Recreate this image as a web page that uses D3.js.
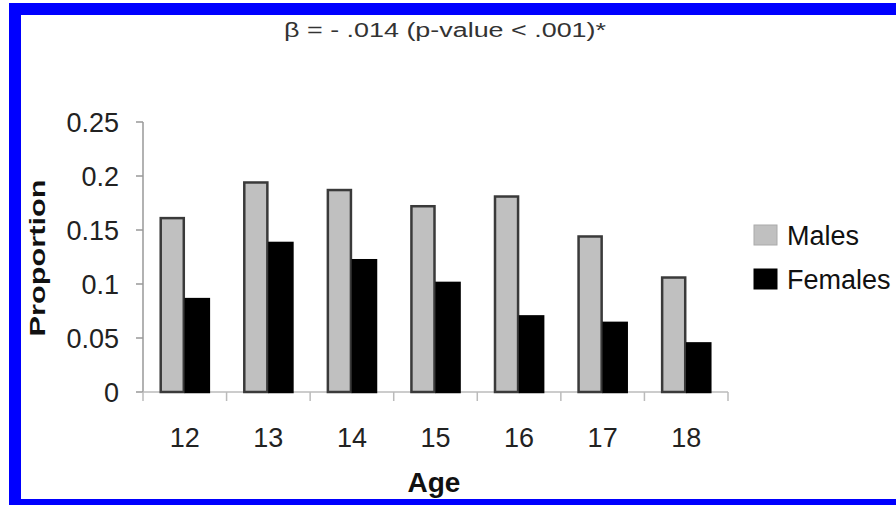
<!DOCTYPE html>
<html>
<head>
<meta charset="utf-8">
<script src="https://cdn.jsdelivr.net/npm/d3@7"></script>
<style>
  body { margin: 0; background: #fff; }
  svg { display: block; font-family: "Liberation Sans", Arial, sans-serif; }
</style>
</head>
<body>
<svg id="svg1" width="896" height="505"></svg>
<script>
// data
var ages = ["12", "13", "14", "15", "16", "17", "18"];
var males = [0.161, 0.194, 0.187, 0.172, 0.181, 0.144, 0.106];
var females = [0.086, 0.138, 0.122, 0.101, 0.070, 0.064, 0.045];
var yTicks = [0, 0.05, 0.1, 0.15, 0.2, 0.25];
var seriesNames = ["Males", "Females"];

var svg = d3.select('#svg1');

// blue frame round the picture
svg.append('rect')
    .attr('x', 15).attr('y', 9)
    .attr('width', 1000).attr('height', 496)
    .attr('fill', 'none')
    .attr('stroke', '#0000ff')
    .attr('stroke-width', 12);

var x = d3.scaleBand().domain(ages).range([143, 728])
    .paddingInner(0.4).paddingOuter(0.2);
var xInner = d3.scaleBand().domain(seriesNames).range([0, x.bandwidth()]);
var y = d3.scaleLinear().domain([0, 0.25]).range([392, 122]);

var colors = { Males: '#c0c0c0', Females: '#000000' };
var strokes = { Males: '#3a3a3a', Females: '#000000' };

// title
svg.append('text')
    .attr('x', 445).attr('y', 37)
    .attr('text-anchor', 'middle')
    .attr('font-size', 20)
    .attr('fill', '#333')
    .attr('textLength', 322)
    .attr('lengthAdjust', 'spacingAndGlyphs')
    .text('β = - .014 (p-value < .001)*');

// y axis
var yAxis = svg.append('g');
yAxis.append('line')
    .attr('x1', 143).attr('x2', 143)
    .attr('y1', y(0.25)).attr('y2', y(0))
    .attr('stroke', '#999').attr('stroke-width', 1.5);
yAxis.selectAll('.tick').data(yTicks).enter().append('line')
    .attr('x1', 136).attr('x2', 143)
    .attr('y1', function(d) { return y(d); })
    .attr('y2', function(d) { return y(d); })
    .attr('stroke', '#999').attr('stroke-width', 1.5);
yAxis.selectAll('.lab').data(yTicks).enter().append('text')
    .attr('x', 119)
    .attr('y', function(d) { return y(d) + 10; })
    .attr('text-anchor', 'end')
    .attr('font-size', 27)
    .attr('fill', '#222')
    .text(function(d) { return d; });

// x axis
var bounds = ages.map(function(d) { return x(d) - x.step() * 0.2; });
bounds.push(728);
svg.append('line')
    .attr('x1', 143).attr('x2', 728)
    .attr('y1', 392).attr('y2', 392)
    .attr('stroke', '#bbb').attr('stroke-width', 1.5);
svg.selectAll('.xtick').data(bounds).enter().append('line')
    .attr('x1', function(d) { return d; })
    .attr('x2', function(d) { return d; })
    .attr('y1', 392).attr('y2', 401)
    .attr('stroke', '#bbb').attr('stroke-width', 1.5);
svg.selectAll('.xlab').data(ages).enter().append('text')
    .attr('x', function(d) { return x(d) + x.bandwidth() / 2; })
    .attr('y', 447)
    .attr('text-anchor', 'middle')
    .attr('font-size', 27)
    .attr('fill', '#222')
    .text(function(d) { return d; });

// bars
var rows = ages.map(function(a, i) {
    return [{ age: a, s: 'Males', v: males[i] }, { age: a, s: 'Females', v: females[i] }];
});
var groups = svg.selectAll('.grp').data(rows).enter().append('g')
    .attr('transform', function(d) { return 'translate(' + x(d[0].age) + ',0)'; });
groups.selectAll('rect').data(function(d) { return d; }).enter().append('rect')
    .attr('x', function(d) { return xInner(d.s) + 1; })
    .attr('y', function(d) { return y(d.v); })
    .attr('width', xInner.bandwidth() - 2)
    .attr('height', function(d) { return y(0) - y(d.v); })
    .attr('fill', function(d) { return colors[d.s]; })
    .attr('stroke', function(d) { return strokes[d.s]; })
    .attr('stroke-width', 2.5);

// axis titles
svg.append('text')
    .attr('x', 434).attr('y', 492)
    .attr('text-anchor', 'middle')
    .attr('font-size', 28)
    .attr('font-weight', 'bold')
    .attr('fill', '#111')
    .text('Age');
svg.append('text')
    .attr('transform', 'translate(45,258) rotate(-90)')
    .attr('text-anchor', 'middle')
    .attr('font-size', 22)
    .attr('font-weight', 'bold')
    .attr('fill', '#111')
    .attr('textLength', 157)
    .attr('lengthAdjust', 'spacingAndGlyphs')
    .text('Proportion');

// legend
var legend = svg.selectAll('.leg').data(seriesNames).enter().append('g')
    .attr('transform', function(d, i) { return 'translate(754,' + (225 + i * 44) + ')'; });
legend.append('rect')
    .attr('width', 23).attr('height', 20)
    .attr('fill', function(d) { return colors[d]; })
    .attr('stroke', function(d) { return d == 'Males' ? '#aaa' : '#000'; })
    .attr('stroke-width', 1);
legend.append('text')
    .attr('x', 33).attr('y', 20)
    .attr('font-size', 27)
    .attr('fill', '#111')
    .text(function(d) { return d; });
</script>
</body>
</html>
